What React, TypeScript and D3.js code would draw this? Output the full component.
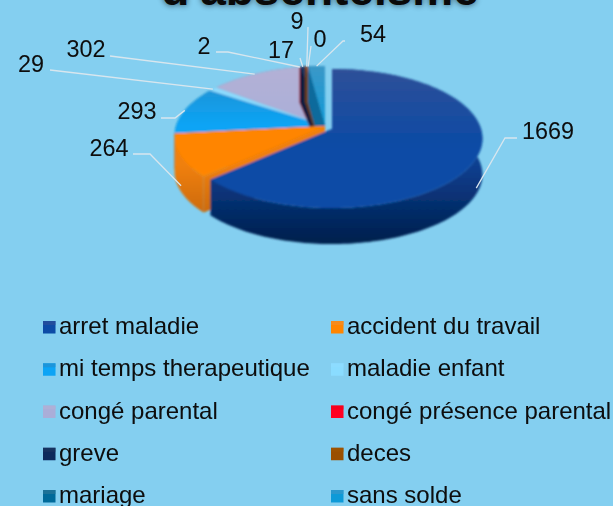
import React from "react";
import * as d3 from "d3";

const W = 613, H = 506;
const categories = ["arret maladie", "accident du travail", "mi temps therapeutique", "maladie enfant", "congé parental", "congé présence parental", "greve", "deces", "mariage", "sans solde"];
const values = [1669, 264, 293, 29, 302, 2, 17, 9, 0, 54];
const topColors = ["#2f5098", "#f09030", "#2a8cc8", "#8fdcff", "#b3b1d6", "#f00020", "#1c3660", "#a0540a", "#2a7898", "#3a98c8"];
const midColors = ["#0a4ba6", "#ff8500", "#0aa4f5", "#8adcff", "#aaaed8", "#ff0020", "#0c2a5c", "#9a5000", "#066a9a", "#109ad8"];
const wallTop = ["#0a3f90", "#f08008", "#0a70a8", "#60b0d0", "#8080a8", "#b00010", "#081c40", "#704000", "#044a70", "#0c6a9c"];
const wallBottom = ["#03204f", "#b85e08", "#0a70a8", "#60b0d0", "#8080a8", "#b00010", "#081c40", "#704000", "#044a70", "#0c6a9c"];
const labelTextX = [548, 109, 137, 31, 86, 204, 281, 297, 320, 373];
const labelTextY = [130, 147, 110, 63, 48, 45, 49, 20, 38, 33];
const lineStartX = [517, 133, 161, 50, 110, 216, 300, 308, 311, 345];
const lineStartY = [138, 154, 118, 70, 56, 52, 58, 27, 46, 41];
const lineKneeX = [505, 150, 175, 50, 110, 228, 300, 308, 311, 343];
const lineKneeY = [138, 154, 118, 70, 56, 52, 58, 27, 46, 41];

const persp = 0.137, ampY = 68.2, radius = 149, depth = 36;
const project = (angle: number, r = 1) => {
  const u = Math.sin(angle) * r, v = -Math.cos(angle) * r;
  const k = 1 / (1 - persp * v);
  return [radius * u * k, ampY * v * k];
};

const arcs = d3.pie<number>().sort(null).value((d) => d)(values);
const originX = (i: number) => (i === 0 ? 332 : 325);
const originY = (i: number) => (i === 0 ? 129 : 126);
const lineGen = d3.line<number[]>();

const slicePoints = (i: number) => {
  const a = arcs[i];
  const n = Math.max(2, Math.ceil((a.endAngle - a.startAngle) * 40));
  const angs = d3.range(n + 1).map((j) => a.startAngle + ((a.endAngle - a.startAngle) * j) / n);
  return angs.map((t) => project(t)).map(([x, y]) => [x + originX(i), y + originY(i)]);
};
const topPath = (i: number) => {
  const pts = slicePoints(i);
  return lineGen([[originX(i), originY(i)], ...pts]) + "Z";
};
const wallPath = (i: number) => {
  const pts = slicePoints(i);
  const low = pts.map(([x, y]) => [x, y + depth]);
  return lineGen([...pts, ...low.reverse()]) + "Z";
};
const sidePath = (i: number, p: number[]) => {
  const o = [originX(i), originY(i)];
  return lineGen([o, p, [p[0], p[1] + depth], [o[0], o[1] + depth]]) + "Z";
};

const drawOrder = [4, 3, 2, 5, 6, 7, 8, 9, 1, 0];
const legendY = d3.scalePoint<number>().domain(d3.range(5)).range([326, 495]);
const legendX = d3.scalePoint<number>().domain([0, 1]).range([43, 331]);

export default function App() {
  return (
    <svg width={W} height={H} style={{ position: "fixed", left: 0, top: 0, background: "#84cff0" }} fontFamily="Liberation Sans">
      <defs>
        <filter id="soft" x="-10%" y="-10%" width="120%" height="120%"><feGaussianBlur stdDeviation="1" /></filter>
        <filter id="shadow" x="-20%" y="-20%" width="140%" height="140%"><feGaussianBlur stdDeviation="3" /></filter>
        <filter id="txt"><feGaussianBlur stdDeviation="0.35" /></filter>
        {categories.map((_, i) => (
          <linearGradient key={i} id={`top${i}`} gradientUnits="userSpaceOnUse" x1="0" y1="68" x2="0" y2={i === 0 ? 150 : 125}>
            <stop offset="0" stopColor={topColors[i]} />
            <stop offset="1" stopColor={midColors[i]} />
          </linearGradient>
        ))}
        {categories.map((_, i) => (
          <linearGradient key={i} id={`wall${i}`} gradientUnits="userSpaceOnUse" x1="0" y1="165" x2="0" y2="240">
            <stop offset="0" stopColor={wallTop[i]} />
            <stop offset="1" stopColor={wallBottom[i]} />
          </linearGradient>
        ))}
      </defs>
      <text x={320} y={5} textAnchor="middle" fontSize={46} fontWeight="bold" fill="#000" filter="url(#shadow)" opacity={0.7}>d'absentéisme</text>
      <text x={320} y={5} textAnchor="middle" fontSize={46} fontWeight="bold" fill="#0a0a0a">d'absentéisme</text>

      <g filter="url(#soft)">
        {drawOrder.map((i) => {
          const pts = slicePoints(i);
          return (
            <g key={i}>
              <path d={wallPath(i)} fill={`url(#wall${i})`} />
              <path d={sidePath(i, pts[0])} fill={`url(#wall${i})`} />
              <path d={sidePath(i, pts[pts.length - 1])} fill={`url(#wall${i})`} />
              <path d={topPath(i)} fill={`url(#top${i})`} />
            </g>
          );
        })}
      </g>

      <g fill="none" stroke="#d8e6ee" strokeWidth={1.3}>
        {arcs.map((a, i) => {
          const mid = (a.startAngle + a.endAngle) / 2;
          const [x, y] = project(mid);
          const onWall = Math.cos(mid) < 0 ? 30 : 0;
          const end = [x + originX(i), y + originY(i) + onWall];
          return <path key={i} d={lineGen([[lineStartX[i], lineStartY[i]], [lineKneeX[i], lineKneeY[i]], end]) as string} />;
        })}
      </g>

      <g fontSize={23.4} fill="#0a0a0a" textAnchor="middle" filter="url(#txt)">
        {values.map((v, i) => (
          <text key={i} x={labelTextX[i]} y={labelTextY[i] + 8.5}>{v}</text>
        ))}
      </g>

      <g filter="url(#txt)">
        {categories.map((c, i) => {
          const col = i % 2, row = Math.floor(i / 2);
          const x = legendX(col) as number, y = legendY(row) as number;
          return (
            <g key={c}>
              <rect x={x} y={y - 5} width={12.5} height={12.5} fill={midColors[i]} />
              <rect x={x} y={y - 5} width={12.5} height={4} fill={topColors[i]} opacity={0.6} />
              <text x={x + 16} y={y + 8} fontSize={24} fill="#0a0a0a">{c}</text>
            </g>
          );
        })}
      </g>
    </svg>
  );
}
